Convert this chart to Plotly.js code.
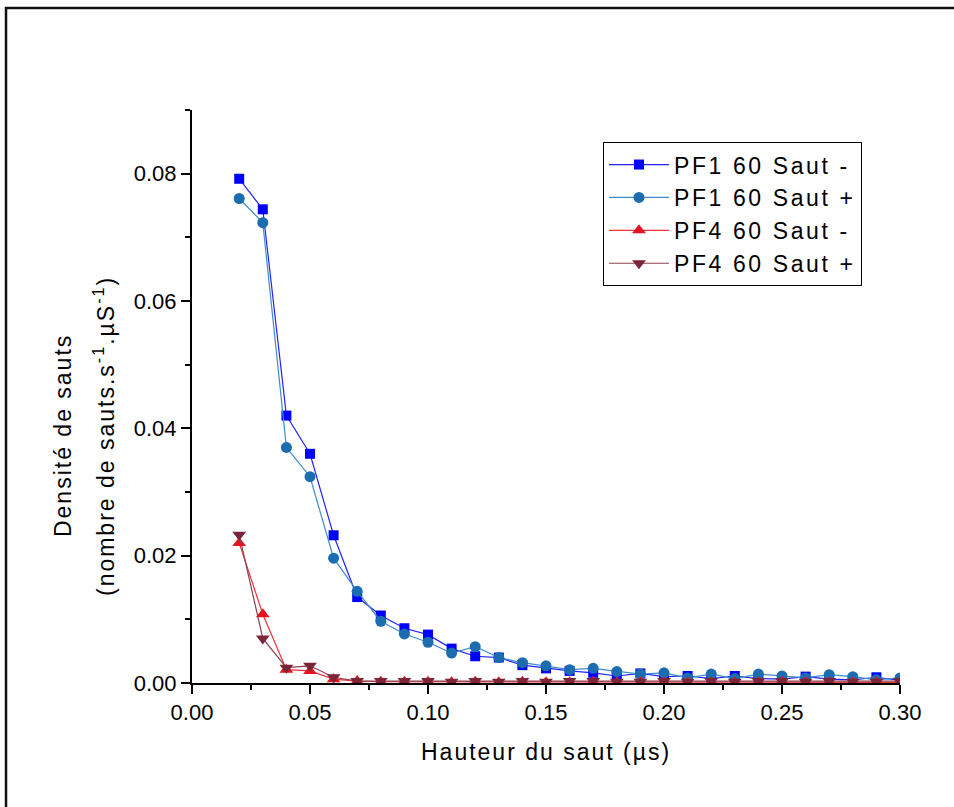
<!DOCTYPE html>
<html>
<head>
<meta charset="utf-8">
<script src="https://cdn.plot.ly/plotly-3.0.1.min.js"></script>
<style>
html,body{margin:0;padding:0;background:#fff;}
#chart{width:954px;height:807px;}
.annotation-text { letter-spacing: 2px; }
.legendtext { letter-spacing: 2.6px; }
</style>
</head>
<body>
<div id="chart"></div>
<script>
// Data
const hauteur = [0.02,0.03,0.04,0.05,0.06,0.07,0.08,0.09,0.10,0.11,0.12,0.13,0.14,0.15,0.16,0.17,0.18,0.19,0.20,0.21,0.22,0.23,0.24,0.25,0.26,0.27,0.28,0.29,0.30];
const pf1SautMoins = [0.0792,0.0744,0.0420,0.0360,0.0232,0.0135,0.0106,0.0086,0.0076,0.0054,0.0042,0.0040,0.0028,0.0023,0.0019,0.0016,0.0011,0.0015,0.0010,0.0011,0.0007,0.0011,0.0007,0.0006,0.0010,0.0006,0.0005,0.0009,0.0004];
const pf1SautPlus  = [0.0761,0.0723,0.0370,0.0324,0.0196,0.0144,0.0097,0.0077,0.0064,0.0047,0.0057,0.0040,0.0032,0.0027,0.0021,0.0023,0.0018,0.0014,0.0016,0.0008,0.0014,0.0007,0.0014,0.0011,0.0008,0.0013,0.0010,0.0005,0.0008];
const pf4SautMoins = [0.0220,0.0108,0.0021,0.0019,0.0006,0.0003,0.0002,0.0002,0.0002,0.0001,0.0002,0.0001,0.0002,0.0001,0.0001,0.0002,0.0001,0.0001,0.0001,0.0001,0.0001,0.0001,0.0001,0.0002,0.0001,0.0001,0.0001,0.0001,0.0001];
const pf4SautPlus  = [0.0233,0.0070,0.0024,0.0027,0.0009,0.0003,0.0003,0.0003,0.0003,0.0002,0.0003,0.0002,0.0003,0.0002,0.0003,0.0003,0.0002,0.0002,0.0003,0.0002,0.0003,0.0002,0.0003,0.0003,0.0002,0.0003,0.0002,0.0002,0.0003];
const seriesNames = ["PF1 60 Saut -","PF1 60 Saut +","PF4 60 Saut -","PF4 60 Saut +"];
const xTitle = "Hauteur du saut (µs)";
const yTitle1 = "Densité de sauts";
const yTitle2 = "(nombre de sauts.s<sup>-1</sup>.µS<sup>-1</sup>)";

const FONT = 'Arial, "Liberation Sans", sans-serif';

function tr(y, name, symbol, mcolor, lcolor, size){
  return {
    x: hauteur, y: y, name: name, type: 'scatter', mode: 'lines+markers',
    line: {color: lcolor, width: 1.2},
    marker: {symbol: symbol, color: mcolor, size: size, line: {width: 0}},
    legendgroup: name
  };
}

const data = [
  tr(pf1SautMoins, seriesNames[0], 'square', '#0000ff', '#2323ff', 10),
  tr(pf1SautPlus,  seriesNames[1], 'circle', '#1c6db0', '#3f8ccc', 11),
  tr(pf4SautMoins, seriesNames[2], 'triangle-up', '#e3141f', '#f0303a', 12),
  tr(pf4SautPlus,  seriesNames[3], 'triangle-down', '#7a2638', '#8c4050', 12)
];

const axisCommon = {
  showline: true, linecolor: '#000', linewidth: 2,
  ticks: 'outside', ticklen: 9, tickwidth: 2, tickcolor: '#000',
  showgrid: false, zeroline: false, mirror: false,
  tickfont: {family: FONT, size: 22, color: '#000'},
  tickformat: '.2f'
};

const layout = {
  width: 954, height: 807,
  margin: {l: 192, r: 54, t: 110, b: 124},
  paper_bgcolor: '#fff', plot_bgcolor: '#fff',
  font: {family: FONT, color: '#000'},
  showlegend: true,
  xaxis: Object.assign({}, axisCommon, {
    range: [0, 0.30], dtick: 0.05, tick0: 0,
    minor: {dtick: 0.025, ticklen: 5, tickwidth: 2, tickcolor: '#000', ticks: 'outside'}
  }),
  yaxis: Object.assign({}, axisCommon, {
    range: [0, 0.09], dtick: 0.02, tick0: 0,
    minor: {dtick: 0.01, ticklen: 5, tickwidth: 2, tickcolor: '#000', ticks: 'outside'}
  }),
  legend: {
    x: 0.5805, y: 0.944, xanchor: 'left', yanchor: 'top',
    bordercolor: '#000', borderwidth: 1, bgcolor: '#fff',
    font: {family: FONT, size: 23, color: '#000'},
    traceorder: 'grouped', tracegroupgap: 0, itemwidth: 60
  },
  annotations: [
    {text: xTitle, xref: 'paper', yref: 'paper', x: 0.5, y: -0.120, xanchor: 'center', yanchor: 'middle', showarrow: false, font: {family: FONT, size: 23, color: '#000'}},
    {text: yTitle1, xref: 'paper', yref: 'paper', x: -0.1822, y: 0.431, xanchor: 'center', yanchor: 'middle', textangle: -90, showarrow: false, font: {family: FONT, size: 23, color: '#000'}},
    {text: yTitle2, xref: 'paper', yref: 'paper', x: -0.1243, y: 0.431, xanchor: 'center', yanchor: 'middle', textangle: -90, showarrow: false, font: {family: FONT, size: 23, color: '#000'}}
  ],
  shapes: [
    {type: 'rect', xref: 'paper', yref: 'paper', x0: -0.2627, x1: 1.10, y0: -0.26, y1: 1.1780, line: {color: '#111', width: 2.5}, fillcolor: 'rgba(0,0,0,0)', layer: 'below'}
  ]
};

Plotly.newPlot('chart', data, layout, {displayModeBar: false, staticPlot: true});
</script>
</body>
</html>
